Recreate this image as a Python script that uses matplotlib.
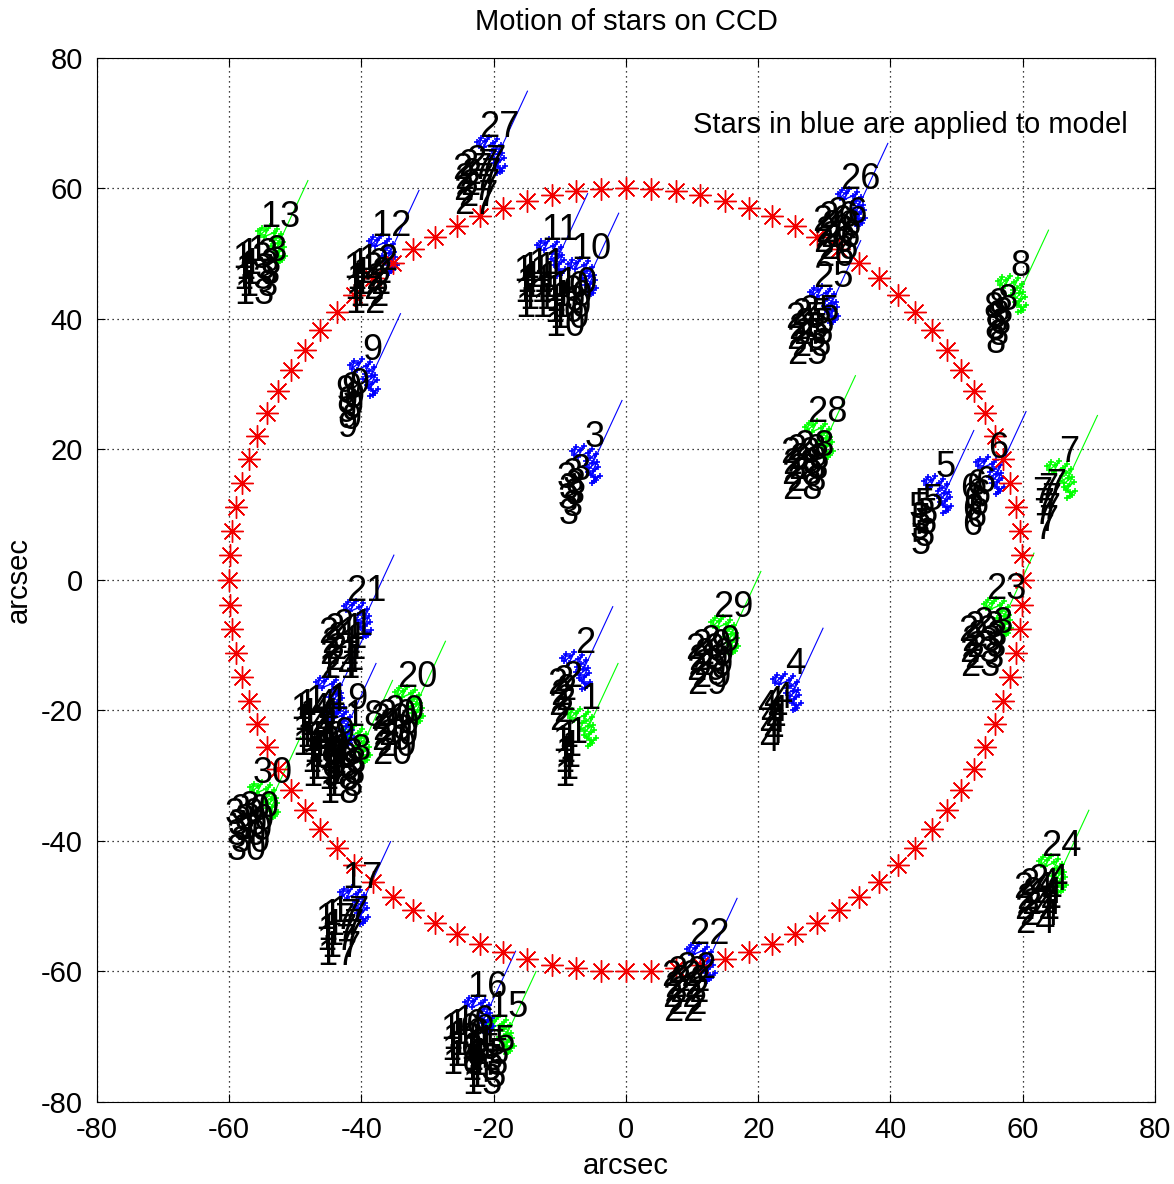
import numpy as np
import matplotlib
matplotlib.use('Agg')
import matplotlib.pyplot as plt

plt.rcParams['font.family'] = ['Liberation Sans', 'DejaVu Sans']
plt.rcParams['axes.unicode_minus'] = False

# star number, label position (arcsec) and colour of its track
star_ids = list(range(1, 31))
star_x = [-5.4, -6.2, -4.8, 25.6, 48.4, 56.3, 67.1, 59.7, -38.3, -5.3,
          -10.0, -35.5, -52.3, -43.5, -17.8, -20.9, -39.8, -39.5, -42.0, -31.5,
          -39.3, 12.6, 57.5, 65.8, 31.3, 35.4, -19.1, 30.5, 16.2, -53.4]
star_y = [-18.4, -9.7, 21.9, -13.0, 17.3, 20.2, 19.6, 48.0, 35.2, 50.6,
          53.6, 54.1, 55.6, -13.5, -65.6, -62.5, -45.7, -21.0, -18.4, -15.0,
          -1.8, -54.4, -1.5, -40.9, 46.4, 61.3, 69.3, 25.7, -4.3, -29.6]
star_color = ['g', 'b', 'b', 'b', 'b', 'b', 'g', 'g', 'b', 'b',
              'b', 'b', 'g', 'b', 'g', 'b', 'b', 'g', 'b', 'g',
              'b', 'b', 'g', 'g', 'b', 'b', 'b', 'g', 'g', 'g']

# offsets of the repeated black labels below each star
trail_dx = [-2.0, -3.3, -4.2, -2.8, -3.8, -3.0, -4.0, -3.3, -3.9]
trail_dy = [-5.2, -5.8, -6.4, -7.2, -8.0, -8.8, -9.6, -10.6, -11.8]

# offsets of the jittery measured track
blob_dx = [-3.4, -2.8, -3.1, -2.2, -1.6, -2.4, -1.0, -0.4, -1.2, -0.6, 0.2, -0.3,
           -1.4, -0.8, 0.4, -0.2, 0.6, -0.5, 0.1, -0.9, 0.3, -0.4, 0.8, 0.0]
blob_dy = [-2.2, -1.6, -2.8, -2.0, -1.4, -3.0, -2.4, -1.8, -3.6, -3.2, -2.6, -4.0,
           -4.4, -4.8, -3.8, -5.2, -4.6, -5.8, -6.2, -5.4, -6.6, -7.0, -5.9, -6.8]

# thin direction line
line_dx = [-0.2, 4.2]
line_dy = [-4.0, 5.6]

# reference circle
circle_r = 60
circle_n = 100

colors = {'b': (0, 0, 1), 'g': (0, 1, 0)}

fig = plt.figure(figsize=(11.74, 11.84), dpi=100)
ax = fig.add_axes([0.0826, 0.0693, 0.9012, 0.8818])

fs = 21
fs_star = 26
for sid, x, y, c in zip(star_ids, star_x, star_y, star_color):
    for dx, dy in zip(trail_dx, trail_dy):
        ax.text(x + dx, y + dy, str(sid), fontsize=fs_star, ha='center', va='center',
                color='k', clip_on=True)
    ax.text(x, y, str(sid), fontsize=fs_star, ha='center', va='center', color='k', clip_on=True)
    ax.plot(x + np.array(blob_dx), y + np.array(blob_dy), color=colors[c], lw=1.0,
            marker='+', ms=4, mew=1.2)
    ax.plot(x + np.array(line_dx), y + np.array(line_dy), color=colors[c], lw=0.8)

theta = np.arange(circle_n) * 2 * np.pi / circle_n
ax.plot(circle_r * np.cos(theta), circle_r * np.sin(theta), ls='none',
        marker=(8, 2, 0), ms=16, mew=1.0, color=(0.95, 0, 0))

ax.text(10.1, 69.7, 'Stars in blue are applied to model', fontsize=fs, ha='left', va='center')

ax.set_xlim(-80, 80)
ax.set_ylim(-80, 80)
ax.set_xticks(np.arange(-80, 81, 20))
ax.set_yticks(np.arange(-80, 81, 20))
ax.grid(True, ls=(0, (1, 3)), color='k', lw=0.9)
ax.tick_params(direction='in', top=True, right=True, labelsize=fs, length=6, pad=10)
ax.set_xlabel('arcsec', fontsize=fs, labelpad=6)
ax.set_ylabel('arcsec', fontsize=fs, labelpad=6)
ax.set_title('Motion of stars on CCD', fontsize=fs, pad=20)

fig.savefig('out.png', dpi=100)
